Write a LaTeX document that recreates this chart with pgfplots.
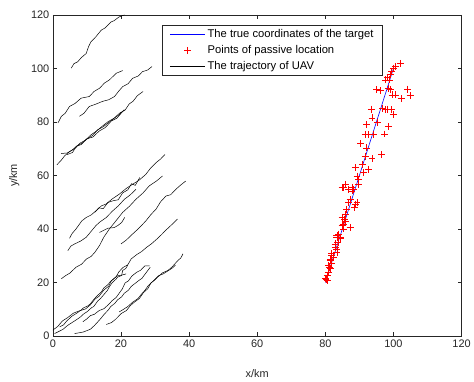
\documentclass[border=0pt]{standalone}
\usepackage{pgfplots}
\pgfplotsset{compat=1.18}
\usepackage{fontspec}
\setmainfont{Liberation Sans}
\definecolor{axgray}{rgb}{0.15,0.15,0.15}
\pgfplotsset{
  bluelegend/.style={legend image code/.code={\draw[blue, line width=0.7pt] (0cm,0cm) -- (1.25cm,0cm);}},
  blacklegend/.style={legend image code/.code={\draw[black, line width=0.6pt] (0cm,0cm) -- (1.25cm,0cm);}},
  redlegend/.style={legend image code/.code={\draw[red, line width=0.8pt] (0.625cm,0cm) ++(-3.5pt,0pt) -- ++(7pt,0pt) (0.625cm,0cm) ++(0pt,-3.5pt) -- ++(0pt,7pt);}},
}
\begin{document}
\begin{tikzpicture}
\begin{axis}[
  width=410bp, height=322bp, scale only axis,
  xmin=0, xmax=120, ymin=0, ymax=120,
  xtick={0,20,...,120}, ytick={0,20,...,120},
  tick align=inside, major tick length=4bp,
  axis line style={axgray, line width=0.6pt},
  every tick/.style={axgray, line width=0.5pt},
  ticklabel style={font=\fontsize{11}{13}\selectfont, text=axgray},
  /pgf/number format/assume math mode=true,
  xlabel={x/km}, ylabel={y/km},
  label style={font=\fontsize{11}{13}\selectfont, text=axgray},
  xlabel style={yshift=-16bp},
  ylabel style={yshift=5bp},
  legend cell align=left,
  legend style={at={(0.268,0.970)}, anchor=north west, draw=axgray, line width=0.5pt,
    font=\fontsize{11.3}{13.5}\selectfont, inner xsep=7bp, inner ysep=3bp, row sep=2bp},
]
% true target trajectory
\addplot[blue, line width=0.6pt, bluelegend] coordinates {(80,20) (100,100)};
\addlegendentry{The true coordinates of the target}
% passive location points
\addplot[only marks, mark=+, red, mark size=3.5pt, mark options={line width=0.8pt}, redlegend]
 coordinates {
(102.1,101.9) (100.0,100.1) (100.5,100.7) (99.5,98.8) (99.0,97.6) (98.2,96.7) (97.6,95.7) (98.7,95.7)
(95.1,92.0) (96.1,91.7) (99.0,92.0) (98.5,92.6) (99.7,90.1) (100.5,90.1) (102.4,88.7) (104.2,92.3) (104.9,89.8)
(93.5,84.8) (96.8,85.2) (97.6,84.6) (98.3,84.8) (99.3,84.6) (100.0,82.7) (93.7,81.5) (95.4,79.9) (92.2,79.0)
(98.5,78.4) (91.7,75.3) (92.7,75.3) (94.1,75.3) (97.4,75.5) (90.4,71.9) (92.2,70.3) (91.7,67.2) (93.7,66.2)
(96.6,67.8) (90.9,64.1) (92.7,62.3) (88.8,62.9) (89.3,59.8) (91.2,61.0) (89.8,58.6) (85.9,56.7) (87.8,55.5)
(85.4,55.5) (86.8,54.8) (87.8,54.2) (84.9,55.5) (88.3,54.8) (89.8,56.7) (87.3,51.1) (89.3,49.9) (88.6,48.0)
(86.3,47.4) (86.8,49.9) (88.8,49.3) (85.9,45.5) (84.9,44.3) (85.7,43.7) (85.9,43.0) (85.2,41.8) (87.3,40.6)
(84.9,41.2) (85.4,40.0) (83.4,37.5) (83.9,38.1) (84.4,36.5) (83.4,36.9) (84.4,36.9) (83.7,35.0) (82.9,34.4)
(82.9,33.2) (83.4,32.5) (83.4,31.3) (81.9,30.7) (81.9,30.0) (82.4,29.4) (81.5,28.8) (81.5,28.2) (81.8,27.0)
(81.0,26.3) (81.2,25.7) (81.5,25.1) (80.8,23.9) (80.5,22.6) (80.0,21.4) (80.2,21.1) (80.5,20.7)
};
\addlegendentry{Points of passive location}
% UAV trajectories
\addplot[black, line width=0.5pt, blacklegend] coordinates {(5.4,100.1) (6.2,101.8) (7.3,102.5) (8.4,104.1) (9.8,105.6) (10.5,108.2) (11.2,110) (12.6,111.8) (14.2,114.3) (15.4,115.2) (17.1,117.4) (17.9,117.8) (19.5,119.3) (21,120)};
\addlegendentry{The trajectory of UAV}
\addplot[black, line width=0.5pt, forget plot] coordinates {(1.5,79.6) (2.5,82.1) (3.6,83.2) (4.9,85.8) (6.5,86.9) (8.3,88.9) (10.7,89.5) (12.1,91.4) (13.7,92.6) (15.2,94.6) (16.6,95.7) (18.6,98.2) (20.5,99.2)};
\addplot[black, line width=0.5pt, forget plot] coordinates {(7.8,82.1) (9.1,83.2) (10.7,85.8) (12.5,86.6) (14.6,87.7) (16.4,88.3) (18.1,89.5) (19.4,91.6) (20.5,93.2) (22.1,94.3) (23.4,96.3) (25.1,97.2) (26.3,98.8) (27.8,99.4) (29.1,100.7)};
\addplot[black, line width=0.5pt, forget plot] coordinates {(1.2,64) (2.4,65.6) (3.5,67.4) (5,69) (6.6,70.2) (8,72.1) (9.6,73.2) (11,75) (12.8,76.6) (14.5,78.4) (16.2,80.1) (18,81.4) (19.6,83.3) (21.2,84.4) (22.4,86.7) (23.6,87.8) (24.8,89.8) (26.5,91.4)};
\addplot[black, line width=0.5pt, forget plot] coordinates {(2.4,68.2) (4.2,68.4) (5.6,69.4) (7.2,71.2) (8.6,72.1) (10.2,73.8) (11.6,74.9) (13.2,77.1) (14.8,78.2) (16.4,79.8) (18.2,81.6) (19.4,82.6) (21,84.6)};
\addplot[black, line width=0.5pt, forget plot] coordinates {(4.2,67.8) (5.8,68.6) (6.8,70.8) (8.4,71.6) (9.8,73.6) (11.8,74.4) (13.6,76.6) (15.4,77.9) (17.2,80.4) (18.8,81.4) (20.4,83.8)};
% middle group
\addplot[black, line width=0.5pt, forget plot] coordinates {(4.9,36.5) (5.6,38.2) (6.8,40) (8.5,43) (9.8,44.3) (11.2,45.2) (12.7,46.8) (14.2,48.6) (15.6,49.3) (17.4,51.2) (19.5,53) (21.6,55.2) (23.4,56.7) (25.2,58.1) (27.3,60.4) (28.6,62.6) (30.3,64.8) (31.6,66.1) (32.9,67.8)};
\addplot[black, line width=0.5pt, forget plot] coordinates {(12.3,46.2) (13.5,47.9) (14.8,47.6) (16.2,49.9) (17.8,50.6) (19.2,50.9) (20.5,53.5) (22,54.6) (23.1,56.9) (24.2,56.3) (25.5,59.2)};
\addplot[black, line width=0.5pt, forget plot] coordinates {(4.4,31.9) (5.3,33.6) (6.4,34.4) (8.2,35.5) (9.8,36.9) (11.5,39.5) (12.6,41.2) (13.7,42.5) (15.6,44.2) (17.6,46.8) (19.2,48.6) (21,51.1) (22.6,52.6) (24.4,54.8)};
\addplot[black, line width=0.5pt, forget plot] coordinates {(13.7,38.7) (15.1,39.6) (16.2,40.3) (18,40.5) (19.1,41.3) (20.2,42.4) (21.1,44.3)};
\addplot[black, line width=0.5pt, forget plot] coordinates {(2.5,21.4) (3.8,22.6) (5,23.5) (6.8,25.7) (8.4,26.8) (9.9,28.8) (11.2,29.7) (12.3,31.2) (13.7,33.8) (15,37) (16.6,40) (18.5,43) (20.5,46.2) (22.5,48.5) (24.4,51.1) (26.5,53.5) (28.3,56.1) (30.5,58) (32.2,59.8)};
\addplot[black, line width=0.5pt, forget plot] coordinates {(20,34.4) (21.6,35.9) (23.4,38.1) (25.2,40.2) (27.3,43) (28.8,45.4) (30.3,47.4) (31.6,50.1) (33.2,52.3) (34.6,52.8) (36.1,54.8) (37.6,56.5) (39,57.9)};
% lower group
\addplot[black, line width=0.5pt, forget plot] coordinates {(0,2.2) (1.4,3.5) (2.8,5.6) (4.4,6.9) (6,8.5) (7.8,9.4) (9.6,10.1) (11,11.6) (12.4,13.8) (13.6,14.9) (15,17.2) (16.4,18.6) (17.2,20.6) (18.6,22.2) (19.4,24) (20.6,25.6) (22,26.6) (23,28.8) (24.6,30.4) (26,31.5) (27.6,33.2) (29,34.5) (30.6,36.3) (32,38) (33.2,39.6) (34,40.5) (35.4,42.2) (36.6,43.7)};
\addplot[black, line width=0.5pt, forget plot] coordinates {(0.5,0.9) (1.8,1.7) (3,2.5) (4.2,3.8) (5,4.5) (6.6,5.8) (8,7) (9.2,8.4) (10,9) (11.4,10.6) (12,11) (13.2,13.1) (14,14) (15.2,15.8) (16,17) (16.8,18.8) (17.5,20) (18.6,21.3) (19,22) (20.2,22.6) (20.5,24.5) (21.4,25.2) (22,26.5)};
\addplot[black, line width=0.5pt, forget plot] coordinates {(2,3.4) (3.2,4.2) (4,5.5) (5.6,7.4) (7,8.5) (8.4,9.8) (9,10.5) (10.2,11.2) (11,12) (12.2,13.9) (13,15) (14.2,16.4) (15,18) (16.2,19.2) (17,20.5) (18.2,21.7) (19,22.5) (20.4,22.8) (21.5,23.2)};
\addplot[black, line width=0.5pt, forget plot] coordinates {(6.4,0.9) (7.8,1.2) (9,1.5) (10.2,2.1) (11,2.5) (12.2,3.9) (13,5) (14.2,6.7) (15,8) (16.2,9.6) (17,11) (18.2,12.2) (19,13.5) (20.2,14.6) (21,16) (22.2,17.1) (23,18.5) (24.2,19.7) (25,20.5) (26.2,21.6) (27,23) (28.6,25.7)};
\addplot[black, line width=0.5pt, forget plot] coordinates {(8.8,5.3) (10,6.4) (11,7.6) (12.2,8.1) (13.6,9.5) (15,10.2) (16.4,11.8) (17.4,13.2) (18.6,14.4) (19.6,16.2) (20.4,17.6) (21.2,19.8) (22.2,20.6) (23.2,22.4) (24.6,23.8) (25.8,24.6) (27,26.2) (28.4,26.2)};
\addplot[black, line width=0.5pt, forget plot] coordinates {(15.7,4.3) (17.2,5) (18.4,6.2) (20.1,8.4) (21.6,9.5) (22.8,11.4) (24,12.7) (25.4,14) (26.6,16.2) (27.9,17.7) (28.8,19.8) (30,21) (30.8,22) (32.2,23.6) (33.8,24.5) (35,25.8) (36.7,28.2) (37.6,29.2) (38.2,30.7)};
\addplot[black, line width=0.5pt, forget plot] coordinates {(19.5,9) (20.8,10) (22,11) (23.4,12.6) (25,14) (26,15.6) (27,17) (28,18.8) (29,20) (30,21.2) (31,22.5) (32.4,23.2) (34,24.5) (35,25.3) (36,26.5)};
\end{axis}
\path (current axis.south west) ++(-53bp,-37.5bp);
\path (current axis.north east) ++(11bp,15bp);
\end{tikzpicture}
\end{document}
